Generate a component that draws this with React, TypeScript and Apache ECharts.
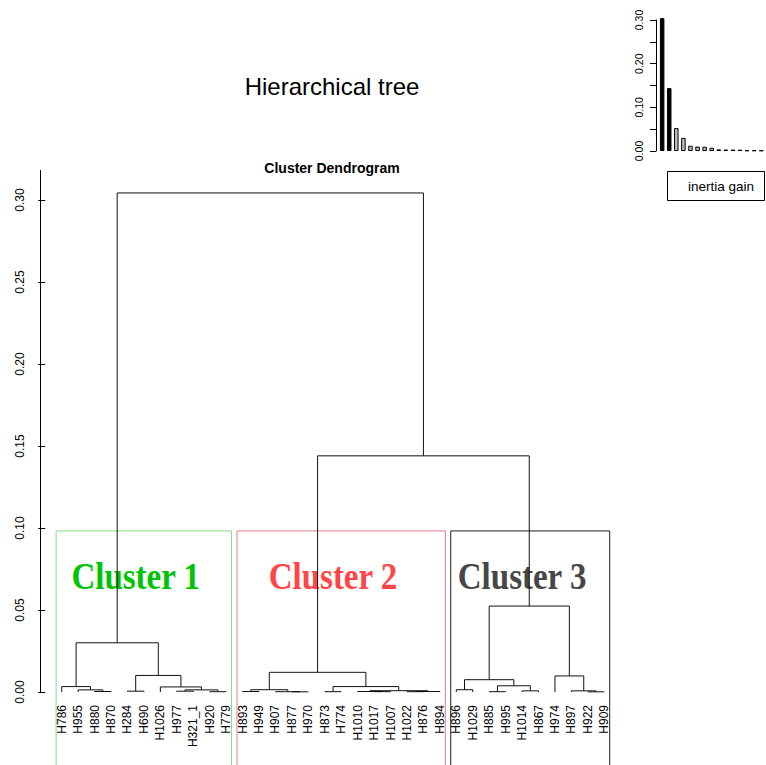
import React, { useEffect, useRef } from "react";
import * as echarts from "echarts";

// Leaves of the dendrogram, in plotting order (left to right)
const leafLabels = [
  "H786", "H955", "H880", "H870", "H284", "H690", "H1026", "H977", "H321_1", "H920", "H779",
  "H893", "H949", "H907", "H877", "H970", "H873", "H774", "H1010", "H1017", "H1007", "H1022", "H876", "H894",
  "H896", "H1029", "H885", "H995", "H1014", "H867", "H974", "H897", "H922", "H909",
];

// hclust-style merge table: a negative entry is a leaf (1-based position in leafLabels),
// a positive entry refers to an earlier merge row (1-based)
const mergeLeft = [
  -3, -2, -1, -5, -8, -10, 5, -7, 4, 3,
  -12, -15, -14, 11, -17, -20, -19, -22, 18, 17, 15, 14,
  -25, -27, -29, 24, 23, -33, -32, -31, 27, 22, 10,
];
const mergeRight = [
  -4, 1, 2, -6, -9, -11, 6, 7, 8, 9,
  -13, -16, 12, 13, -18, -21, 16, -23, -24, 19, 20, 21,
  -26, -28, -30, 25, 26, -34, 28, 29, 30, 31, 32,
];
const mergeHeight = [
  0.0003, 0.0013, 0.0033, 0.0005, 0.0005, 0.0002, 0.0013, 0.0031, 0.0101, 0.0300,
  0.0003, 0.0001, 0.0002, 0.0014, 0.0002, 0.0002, 0.0003, 0.0002, 0.0003, 0.0008, 0.0033, 0.0120,
  0.0014, 0.0002, 0.0007, 0.0038, 0.0075, 0.0001, 0.0007, 0.0098, 0.0524, 0.1440, 0.3043,
];

// Cut into three clusters
const clusterNames = ["Cluster 1", "Cluster 2", "Cluster 3"];
const clusterSizes = [11, 13, 10];
const clusterTextColors = ["#00C400", "#FF4545", "#474747"];
const clusterBoxColors = ["#86DC86", "#E57A8A", "#1E1E1E"];

const gainBarCount = 15;
const blackBars = 2;

const SANS = "'Liberation Sans', Arial, sans-serif";
const SERIF = "'Liberation Serif', 'Times New Roman', serif";

// Geometry of each merge: [leftX, leftH, rightX, rightH, height]
function buildSegments() {
  const nodeX: number[] = [];
  const segs: number[][] = [];
  const at = (ref: number) =>
    ref < 0 ? { x: -ref, h: 0 } : { x: nodeX[ref - 1], h: mergeHeight[ref - 1] };
  for (let i = 0; i < mergeHeight.length; i++) {
    const l = at(mergeLeft[i]);
    const r = at(mergeRight[i]);
    nodeX.push((l.x + r.x) / 2);
    segs.push([l.x, l.h, r.x, r.h, mergeHeight[i]]);
  }
  return segs;
}

export default function App() {
  const ref = useRef<HTMLDivElement>(null);

  useEffect(() => {
    if (!ref.current) return;
    const chart = echarts.init(ref.current, null, { renderer: "svg" });

    const segs = buildSegments();
    const sortedHeights = [...mergeHeight].sort((a, b) => b - a);
    const cutHeight = (sortedHeights[1] + sortedHeights[2]) / 2;
    const gains = sortedHeights.slice(0, gainBarCount);

    const clusterData: number[][] = [];
    let start = 0;
    clusterSizes.forEach((n, i) => {
      clusterData.push([start + 0.66, start + n + 0.33, cutHeight, start + n / 2, i]);
      start += n;
    });

    chart.setOption({
      animation: false,
      grid: [
        { left: 40, right: 140, top: 200, bottom: 73 },
        { left: 656, width: 120, top: 20, bottom: 614 },
      ],
      xAxis: [
        { type: "value", gridIndex: 0, min: -0.32, max: 35.32, show: false },
        { type: "value", gridIndex: 1, min: 0.132, max: 15.67, show: false },
      ],
      yAxis: [
        {
          type: "value",
          gridIndex: 0,
          min: 0,
          max: 0.3,
          interval: 0.05,
          splitLine: { show: false },
          axisLine: { show: false },
          axisTick: { show: true, length: 7, lineStyle: { color: "#000", width: 1 } },
          axisLabel: {
            rotate: 90,
            margin: 14,
            color: "#000",
            fontSize: 12,
            fontFamily: SANS,
            formatter: (v: number) => v.toFixed(2),
          },
        },
        {
          type: "value",
          gridIndex: 1,
          min: 0,
          max: 0.3,
          interval: 0.05,
          splitLine: { show: false },
          axisLine: { show: true, lineStyle: { color: "#000", width: 1 } },
          axisTick: { show: true, length: 6, lineStyle: { color: "#000", width: 1 } },
          axisLabel: {
            rotate: 90,
            margin: 12,
            color: "#000",
            fontSize: 10.5,
            fontFamily: SANS,
            formatter: (v: number) =>
              Math.round(v * 100) % 10 === 0 ? v.toFixed(2) : "",
          },
        },
      ],
      graphic: [
        {
          type: "line",
          shape: { x1: 40.5, y1: 170, x2: 40.5, y2: 692 },
          style: { stroke: "#000", lineWidth: 1 },
        },
        {
          type: "text",
          x: 332,
          y: 86,
          style: {
            text: "Hierarchical tree",
            fontSize: 24,
            fontFamily: SANS,
            fill: "#000",
            align: "center",
            verticalAlign: "middle",
          },
        },
        {
          type: "text",
          x: 332,
          y: 168,
          style: {
            text: "Cluster Dendrogram",
            fontSize: 14,
            fontWeight: "bold",
            fontFamily: SANS,
            fill: "#000",
            align: "center",
            verticalAlign: "middle",
          },
        },
        {
          type: "rect",
          shape: { x: 667.5, y: 171.5, width: 97, height: 29 },
          style: { stroke: "#000", lineWidth: 1, fill: "none" },
        },
        {
          type: "text",
          x: 721,
          y: 186,
          style: {
            text: "inertia gain",
            fontSize: 13.5,
            fontFamily: SANS,
            fill: "#000",
            align: "center",
            verticalAlign: "middle",
          },
        },
      ],
      series: [
        {
          // cluster boxes and their names
          type: "custom",
          xAxisIndex: 0,
          yAxisIndex: 0,
          clip: false,
          z: 1,
          data: clusterData,
          renderItem: (_p: any, api: any) => {
            const idx = api.value(4);
            const tl = api.coord([api.value(0), api.value(2)]);
            const br = api.coord([api.value(1), -0.1]);
            const c = api.coord([api.value(3), 0.0705]);
            return {
              type: "group",
              children: [
                {
                  type: "rect",
                  shape: { x: tl[0], y: tl[1], width: br[0] - tl[0], height: br[1] - tl[1] },
                  style: { stroke: clusterBoxColors[idx], lineWidth: 1, fill: "none" },
                },
                {
                  type: "text",
                  x: c[0],
                  y: c[1],
                  scaleY: 1.15,
                  style: {
                    text: clusterNames[idx],
                    fontSize: 33,
                    fontWeight: "bold",
                    fontFamily: SERIF,
                    fill: clusterTextColors[idx],
                    align: "center",
                    verticalAlign: "middle",
                  },
                },
              ],
            };
          },
        },
        {
          // dendrogram branches
          type: "custom",
          xAxisIndex: 0,
          yAxisIndex: 0,
          clip: false,
          z: 3,
          data: segs,
          encode: { x: [0, 2], y: [1, 3, 4] },
          renderItem: (_p: any, api: any) => {
            const p0 = api.coord([api.value(0), api.value(1)]);
            const p1 = api.coord([api.value(0), api.value(4)]);
            const p2 = api.coord([api.value(2), api.value(4)]);
            const p3 = api.coord([api.value(2), api.value(3)]);
            return {
              type: "polyline",
              shape: { points: [p0, p1, p2, p3] },
              style: { stroke: "#111", lineWidth: 1, fill: null },
            };
          },
        },
        {
          // leaf labels
          type: "custom",
          xAxisIndex: 0,
          yAxisIndex: 0,
          clip: false,
          z: 3,
          data: leafLabels.map((_, i) => [i + 1, 0]),
          renderItem: (p: any, api: any) => {
            const pt = api.coord([api.value(0), 0]);
            return {
              type: "text",
              x: pt[0],
              y: pt[1] + 13,
              rotation: Math.PI / 2,
              style: {
                text: leafLabels[p.dataIndex],
                fontSize: 12,
                fontFamily: SANS,
                fill: "#000",
                align: "right",
                verticalAlign: "middle",
              },
            };
          },
        },
        {
          // inertia gain bar plot
          type: "bar",
          xAxisIndex: 1,
          yAxisIndex: 1,
          clip: false,
          barWidth: 4.5,
          data: gains.map((v, i) => ({
            value: [i + 1, v],
            itemStyle: {
              color: i < blackBars ? "#000" : "#BEBEBE",
              borderColor: "#000",
              borderWidth: 1,
            },
          })),
        },
      ],
    });

    return () => chart.dispose();
  }, []);

  return (
    <div
      ref={ref}
      style={{ position: "fixed", left: 0, top: 0, width: 766, height: 765, background: "#fff" }}
    />
  );
}
